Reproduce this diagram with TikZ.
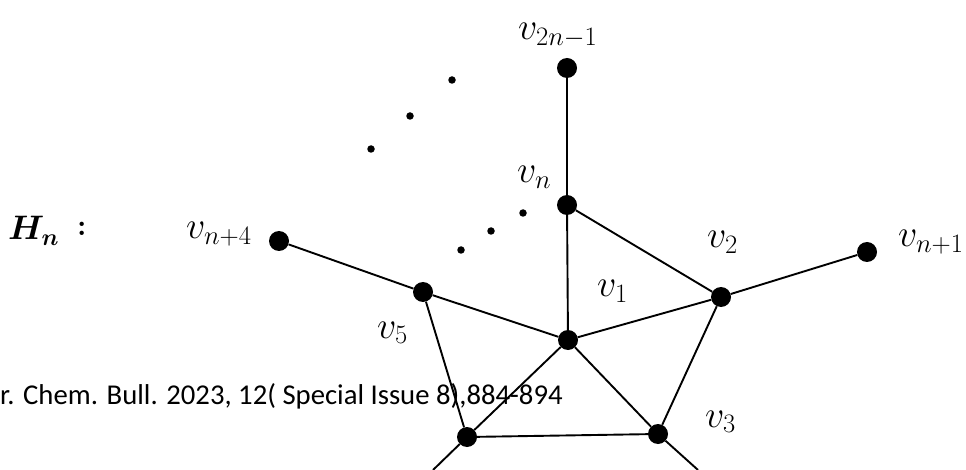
\RequirePackage{fix-cm}
\documentclass[tikz,border=0pt]{standalone}
\usepackage{amsmath,bm}
\usepackage{fontspec}
\newfontfamily\calibri{Carlito}
\begin{document}
\begin{tikzpicture}[x=1pt,y=-1pt,
  vtx/.style={circle,fill=black,inner sep=0pt,minimum size=20pt},
  sdot/.style={circle,fill=black,inner sep=0pt,minimum size=7.5pt},
  edge/.style={line width=1.9pt},
  lab/.style={inner sep=0pt,anchor=base west,font=\fontsize{38}{40}\selectfont}]
\useasboundingbox (0,0) rectangle (966,470);
% vertices
\node[vtx] (vt) at (567,68) {};
\node[vtx] (vn) at (567,205) {};
\node[vtx] (v1) at (568,340) {};
\node[vtx] (v2) at (721,297) {};
\node[vtx] (vn1) at (867,252) {};
\node[vtx] (v5) at (423,292) {};
\node[vtx] (vn4) at (279,241) {};
\node[vtx] (v4) at (467,437) {};
\node[vtx] (v3) at (658,434) {};
\coordinate (b4) at (433,470);
\coordinate (b3) at (698,470);
% dots
\node[sdot] (d1) at (452,80) {};
\node[sdot] (d2) at (410,116) {};
\node[sdot] (d3) at (371,149) {};
\node[sdot] (d4) at (523,213) {};
\node[sdot] (d5) at (491,231) {};
\node[sdot] (d6) at (461,250) {};
% edges
\draw[edge] (vt) -- (vn);
\draw[edge] (vn) -- (v1);
\draw[edge] (vn) -- (v2);
\draw[edge] (v1) -- (v2);
\draw[edge] (v2) -- (vn1);
\draw[edge] (v2) -- (v3);
\draw[edge] (v1) -- (v3);
\draw[edge] (v3) -- (v4);
\draw[edge] (v1) -- (v4);
\draw[edge] (v4) -- (v5);
\draw[edge] (v5) -- (v1);
\draw[edge] (v5) -- (vn4);
\draw[edge] (v4) -- (b4);
\draw[edge] (v3) -- (b3);
% labels
\node[lab] (lt) at (518,40) {$v_{2n-1}$};
\node[lab] (ln) at (517,183) {$v_{n}$};
\node[lab] (l1) at (597,297) {$v_{1}$};
\node[lab] (l2) at (707,248) {$v_{2}$};
\node[lab] (ln1) at (898,247) {$v_{n+1}$};
\node[lab] (l3) at (705,427) {$v_{3}$};
\node[lab] (l5) at (377,338) {$v_{5}$};
\node[lab] (ln4) at (186,239) {$v_{n+4}$};
\node[lab,font=\fontsize{34}{36}\selectfont] (h) at (8,240) {$\bm{H_{n}}$};
\node[lab,font=\fontsize{30}{32}\selectfont\bfseries] (colon) at (77,236) {:};
% watermark
\node[inner sep=0pt,anchor=base west,font=\calibri\fontsize{28.7}{30}\selectfont] (wm) at (0,404) {r. Chem. Bull. 2023, 12( Special Issue 8),884-894};
\end{tikzpicture}
\end{document}
